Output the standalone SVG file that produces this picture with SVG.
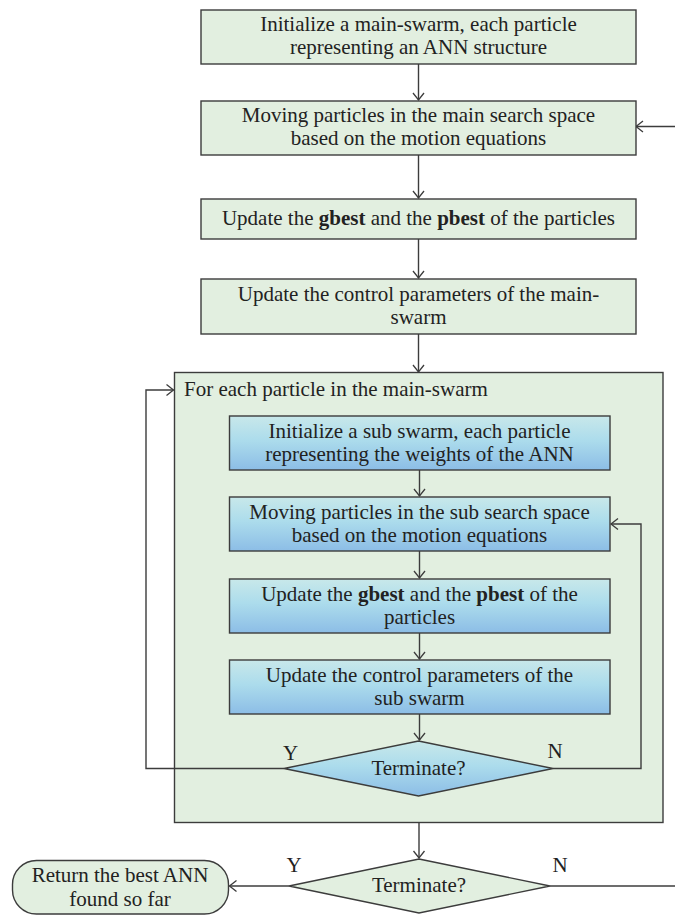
<svg xmlns="http://www.w3.org/2000/svg" width="675" height="915" viewBox="0 0 675 915">
<style>
text{font-family:"Liberation Serif","DejaVu Serif",serif;font-size:21px;fill:#222;text-anchor:middle}
.g{fill:#e2efe0;stroke:#3c3c3c;stroke-width:1.4}
.b{fill:url(#bg);stroke:#3c3c3c;stroke-width:1.4}
.c{fill:none;stroke:#3c3c3c;stroke-width:1.4}
.bd{font-weight:bold}
</style>
<defs>
<linearGradient id="bg" x1="0" y1="0" x2="0" y2="1">
<stop offset="0" stop-color="#c8e8ea"/>
<stop offset="0.45" stop-color="#acdcec"/>
<stop offset="1" stop-color="#8cbde6"/>
</linearGradient>
<marker id="ar" markerUnits="userSpaceOnUse" markerWidth="14" markerHeight="14" viewBox="-8 -7 10 14" refX="0" refY="0" orient="auto">
<path d="M-7,-5.5 L0,0 L-7,5.5" fill="none" stroke="#3c3c3c" stroke-width="1.3"/>
</marker>
</defs>

<g id="container">
<rect class="g" x="174.5" y="372.5" width="488.5" height="450"/>
<text x="184" y="396" style="text-anchor:start">For each particle in the main-swarm</text>
</g>

<g id="connectors" class="c">
<line x1="418.5" y1="64" x2="418.5" y2="100" marker-end="url(#ar)"/>
<line x1="418.5" y1="155" x2="418.5" y2="198" marker-end="url(#ar)"/>
<line x1="418.5" y1="239" x2="418.5" y2="278" marker-end="url(#ar)"/>
<line x1="418.5" y1="334" x2="418.5" y2="372" marker-end="url(#ar)"/>
<line x1="675" y1="126.5" x2="636" y2="126.5" marker-end="url(#ar)"/>
<line x1="419.5" y1="470" x2="419.5" y2="496" marker-end="url(#ar)"/>
<line x1="419.5" y1="551" x2="419.5" y2="578" marker-end="url(#ar)"/>
<line x1="419.5" y1="633" x2="419.5" y2="659" marker-end="url(#ar)"/>
<line x1="419.5" y1="714" x2="419.5" y2="740" marker-end="url(#ar)"/>
<polyline points="284,768.5 146,768.5 146,390 173.5,390" marker-end="url(#ar)"/>
<polyline points="553,768.5 641,768.5 641,524 611,524" marker-end="url(#ar)"/>
<line x1="419" y1="822.5" x2="419" y2="858" marker-end="url(#ar)"/>
<line x1="289" y1="886" x2="229.5" y2="886" marker-end="url(#ar)"/>
<line x1="550" y1="886" x2="675" y2="886"/>
</g>

<g id="box1">
<rect class="g" x="201" y="10" width="435" height="54"/>
<text x="418.5" y="31">Initialize a main-swarm, each particle</text>
<text x="418.5" y="54">representing an ANN structure</text>
</g>
<g id="box2">
<rect class="g" x="201" y="101" width="435" height="54"/>
<text x="418.5" y="122">Moving particles in the main search space</text>
<text x="418.5" y="145">based on the motion equations</text>
</g>
<g id="box3">
<rect class="g" x="201" y="199" width="435" height="40"/>
<text x="418.5" y="225">Update the <tspan class="bd">gbest</tspan> and the <tspan class="bd">pbest</tspan> of the particles</text>
</g>
<g id="box4">
<rect class="g" x="201" y="279" width="435" height="55"/>
<text x="418.5" y="301">Update the control parameters of the main-</text>
<text x="418.5" y="324">swarm</text>
</g>

<g id="subA">
<rect class="b" x="229.5" y="416" width="380.5" height="54"/>
<text x="419.5" y="438">Initialize a sub swarm, each particle</text>
<text x="419.5" y="461">representing the weights of the ANN</text>
</g>
<g id="subB">
<rect class="b" x="229.5" y="497" width="380.5" height="54"/>
<text x="419.5" y="519">Moving particles in the sub search space</text>
<text x="419.5" y="542">based on the motion equations</text>
</g>
<g id="subC">
<rect class="b" x="229.5" y="579" width="380.5" height="54"/>
<text x="419.5" y="601">Update the <tspan class="bd">gbest</tspan> and the <tspan class="bd">pbest</tspan> of the</text>
<text x="419.5" y="624">particles</text>
</g>
<g id="subD">
<rect class="b" x="229.5" y="660" width="380.5" height="54"/>
<text x="419.5" y="682">Update the control parameters of the</text>
<text x="419.5" y="705">sub swarm</text>
</g>
<g id="subTerminate">
<polygon class="b" points="418.5,741 553,768.5 418.5,796 284,768.5"/>
<text x="418.5" y="775">Terminate?</text>
<text x="290.5" y="760">Y</text>
<text x="555" y="758">N</text>
</g>

<g id="mainTerminate">
<polygon class="g" points="419,859 550,886 419,913 289,886"/>
<text x="419" y="892">Terminate?</text>
<text x="294" y="872">Y</text>
<text x="560" y="872">N</text>
</g>

<g id="returnBox">
<rect class="g" x="12.5" y="860.5" width="216" height="53.5" rx="24" ry="24"/>
<text x="120" y="882">Return the best ANN</text>
<text x="120" y="906">found so far</text>
</g>
</svg>
